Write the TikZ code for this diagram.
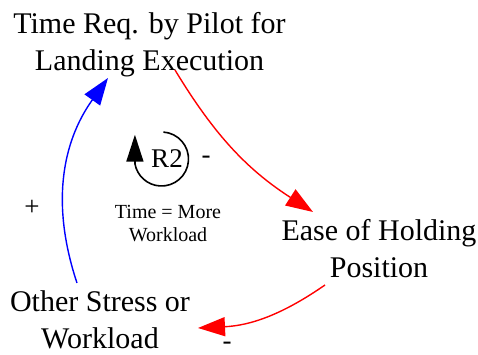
\documentclass[tikz,border=0pt]{standalone}
\usepackage{fontspec}
\setmainfont{Liberation Serif}
\usetikzlibrary{arrows.meta}
\begin{document}
\begin{tikzpicture}[x=1pt,y=1pt,
  varlabel/.style={align=center,anchor=base,inner sep=0pt,
    font=\fontsize{30}{37}\selectfont},
  note/.style={align=center,anchor=base,inner sep=0pt,
    font=\fontsize{20}{23}\selectfont},
  polarity/.style={inner sep=0pt,font=\fontsize{27}{30}\selectfont},
  link/.style={line width=1.4pt,
    -{Triangle[length=27pt,width=19pt]}},
  posl/.style={link,blue},
  negl/.style={link,red}]
\useasboundingbox (0,0) rectangle (478,355);

% variables (base anchor sits on the last line)
\node[varlabel] (time) at (149.5,284) {Time Req. by Pilot for\\Landing Execution};
\node[varlabel] (ease) at (379,77) {Ease of Holding\\Position};
\node[varlabel] (stress) at (100,6) {Other Stress or\\Workload};

% connector end points
\coordinate (t1) at (175,285);
\coordinate (e1) at (313,143);
\coordinate (e2) at (325,70);
\coordinate (s1) at (198,27);
\coordinate (s2) at (77,72);
\coordinate (t2) at (108,277);

\draw[negl] (t1) to[bend right=13] (e1);
\draw[negl] (e2) to[bend left=16] (s1);
\draw[posl] (s2) to[bend left=27] (t2);

% polarities
\node[polarity] (p1) at (32,147) {+};
\node[polarity] (p2) at (206,195) {-};
\node[polarity,anchor=base,text depth=0pt] (p3) at (227,5) {-};

% loop marker
\coordinate (lc) at (161.5,196);
\draw[line width=1.6pt] (lc) ++(86:27) arc[start angle=86,end angle=-170,radius=27]
  coordinate (la);
\draw[line width=1.6pt,-{Triangle[length=27pt,width=17pt]}] (la) -- ++(0,29) coordinate (lt);
\node[inner sep=0pt,font=\fontsize{27}{30}\selectfont] (r2) at (167,196) {R2};
\node[note] (loopname) at (168,113) {Time = More\\Workload};
\end{tikzpicture}
\end{document}
